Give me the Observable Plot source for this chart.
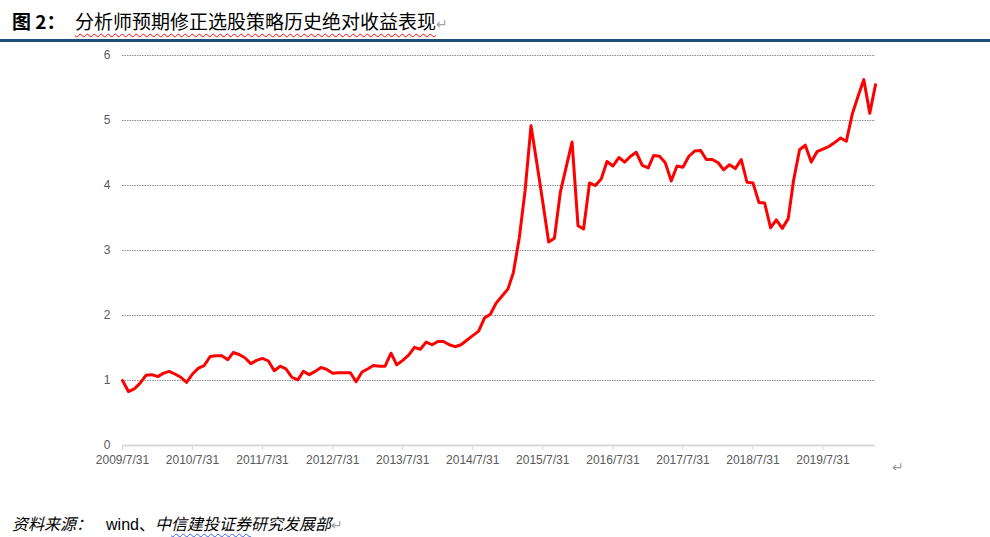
<!DOCTYPE html>
<html><head><meta charset="utf-8">
<script src="https://cdn.jsdelivr.net/npm/d3@7"></script>
<script src="https://cdn.jsdelivr.net/npm/@observablehq/plot@0.6"></script>
<style>
body{margin:0;width:990px;height:537px;position:relative;background:#fff;overflow:hidden;font-family:"Noto Sans CJK SC","Noto Sans",sans-serif;color:#000}
#title{position:absolute;left:12px;top:6px;font-size:19px;line-height:30px;white-space:nowrap}
#title .lbl{font-weight:bold;display:inline-block;width:63px}
#title .t{text-decoration:underline wavy #ff0000;text-decoration-thickness:1px;text-underline-offset:4px}
.ret{color:#a0a0a0;font-family:"DejaVu Sans",sans-serif;font-size:14px}
#rule{position:absolute;left:0;top:39px;width:990px;height:3px;background:#1F4E79}
#chart{position:absolute;left:0;top:43px}
#mark2{position:absolute;left:892px;top:459px}
#caption{position:absolute;left:12px;top:510px;font-size:16px;line-height:26px;white-space:nowrap}
#caption i{font-style:italic}
#caption .w{font-family:"Liberation Sans",Arial,sans-serif;margin-left:14px}
#caption .u{text-decoration:underline wavy #3060ff;text-decoration-thickness:1px;text-underline-offset:3px}
</style></head>
<body>
<div id="title"><span class="lbl">图 2：</span><span class="t">分析师预期修正选股策略历史绝对收益表现</span><span class="ret">↵</span></div>
<div id="rule"></div>
<div id="chart"></div>
<div id="mark2" class="ret">↵</div>
<div id="caption"><i>资料来源：</i><span class="w">wind</span>、<i>中<span class="u">信建投证券</span>研究发展部</i><span class="ret">↵</span></div>
<script>
// Monthly absolute return (net value), month-end, starting 2009/7/31
const startYear = 2009, startMonth = 7;
const values = [
  1.00,0.83,0.87,0.96,1.08,1.09,1.06,1.11,1.14,1.10,1.05,0.97,
  1.10,1.19,1.23,1.37,1.38,1.38,1.32,1.43,1.40,1.35,1.26,1.31,
  1.34,1.30,1.15,1.22,1.18,1.05,1.01,1.14,1.09,1.14,1.20,1.17,
  1.11,1.12,1.12,1.12,0.98,1.13,1.18,1.23,1.22,1.22,1.42,1.24,
  1.31,1.39,1.51,1.48,1.59,1.55,1.60,1.60,1.55,1.52,1.55,1.62,
  1.69,1.76,1.96,2.02,2.19,2.30,2.41,2.66,3.20,3.92,4.92,4.35,
  3.75,3.13,3.19,3.90,4.28,4.67,3.38,3.33,4.04,4.00,4.10,4.37,
  4.30,4.43,4.36,4.45,4.51,4.31,4.27,4.46,4.45,4.35,4.07,4.30,
  4.28,4.45,4.53,4.54,4.40,4.40,4.35,4.24,4.32,4.26,4.40,4.05,
  4.04,3.74,3.73,3.35,3.47,3.34,3.49,4.08,4.55,4.62,4.36,4.52,
  4.56,4.60,4.66,4.73,4.68,5.10,5.38,5.63,5.11,5.55
];
const xTickLabels = ["2009/7/31","2010/7/31","2011/7/31","2012/7/31","2013/7/31","2014/7/31","2015/7/31","2016/7/31","2017/7/31","2018/7/31","2019/7/31"];
const yTicks = [0,1,2,3,4,5,6];
const gridValues = [1,2,3,4,5,6];

const monthEnd = i => d3.utcDay.offset(d3.utcMonth.offset(new Date(Date.UTC(startYear, startMonth, 1)), i), -1);
const data = values.map((v, i) => ({date: monthEnd(i), value: v}));
const parse = d3.utcParse("%Y/%m/%d");
const tickDates = xTickLabels.map(parse);
const labelMap = new Map(tickDates.map((d, i) => [+d, xTickLabels[i]]));

const chart = Plot.plot({
  width: 990,
  height: 430,
  marginLeft: 122,
  marginRight: 115,
  marginTop: 12,
  marginBottom: 28,
  style: {fontFamily: "'Liberation Sans', Arial, sans-serif", fontSize: "12px", background: "transparent"},
  x: {type: "utc", domain: [data[0].date, data[data.length - 1].date]},
  y: {domain: [0, 6]},
  marks: [
    Plot.ruleY(gridValues, {stroke: "#8c8c8c", strokeDasharray: "1.5,1", strokeWidth: 1}),
    Plot.ruleY([0], {stroke: "#d9d9d9", strokeWidth: 2}),
    Plot.axisX(tickDates, {tickFormat: d => labelMap.get(+d), tickSize: 5, tickPadding: 5, stroke: "#d9d9d9", fill: "#595959", label: null}),
    Plot.axisY(yTicks, {tickFormat: d => String(d), tickSize: 0, tickPadding: 12, fill: "#595959", label: null}),
    Plot.lineY(data, {x: "date", y: "value", stroke: "#ff0000", strokeWidth: 3, strokeLinejoin: "round"})
  ]
});
document.getElementById("chart").appendChild(chart);
</script>
</body></html>
